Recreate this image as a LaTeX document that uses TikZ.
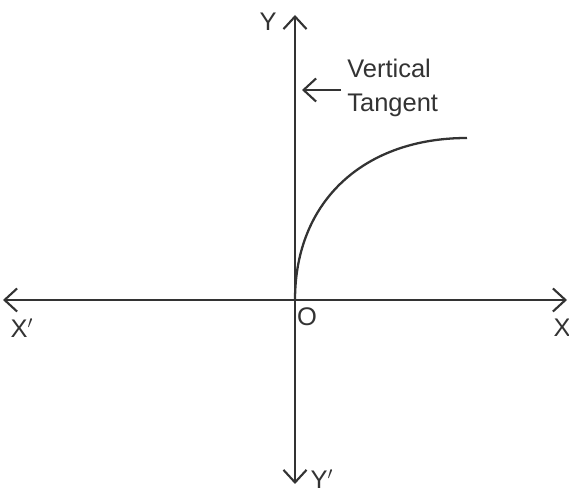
\documentclass[tikz,border=0pt]{standalone}
\usepackage{fontspec}
\setmainfont{Liberation Sans}
\usetikzlibrary{arrows.meta, positioning}

\begin{document}
\begin{tikzpicture}[
    x=0.02cm, y=-0.02cm,
    font=\fontsize{14.5}{19}\selectfont,
    >={Straight Barb[length=2.5mm, width=4.6mm, line width=1.2pt]},
    axis/.style={<->, line width=1.3pt, draw=black!80},
    lbl/.style={text=black!80, inner sep=0pt},
]
    \useasboundingbox (0,0) rectangle (569,492);
    % axes
    \coordinate (O) at (295,300);
    \coordinate (xl) at (3,300);
    \coordinate (xr) at (567,300);
    \coordinate (yt) at (295,15);
    \coordinate (yb) at (295,484);
    \draw[axis] (xl) -- (xr);
    \draw[axis] (yb) -- (yt);
    % axis labels
    \node[lbl] (ly) at (268,22) {Y};
    \node[lbl] (lyd) at (322,479) {Y$'$};
    \node[lbl] (lxd) at (22,328) {X$'$};
    \node[lbl] (lx) at (562,328) {X};
    \node[lbl] (lo) at (307,317) {O};
    % curve
    \coordinate (c) at (467,138);
    \draw[line width=1.3pt, draw=black!80] (O) .. controls (295,200) and (365,138) .. (c);
    % tangent note
    \node[lbl, align=left, anchor=west] (tan) at (347,88) {Vertical\\Tangent};
    \coordinate (ta) at (302,90);
    \draw[->, line width=1.2pt, draw=black!80] (tan.west |- ta) ++(-6,0) -- (ta);
\end{tikzpicture}
\end{document}
